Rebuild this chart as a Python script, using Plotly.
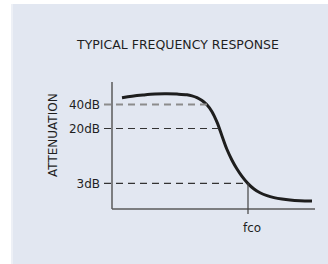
import plotly.graph_objects as go

# Schematic response curve (x: frequency position, y: attenuation level position)
curve_x = [10, 20, 31, 43, 55, 65, 75, 80, 85, 90, 94.7, 100, 105, 110, 115, 120, 125, 130, 136, 142, 148, 155, 162, 170, 178, 188, 200]
curve_y = [111.3, 112.8, 114, 115, 115.2, 114.9, 114.2, 113.15, 111.4, 108.5, 104.5, 97.3, 86.8, 73.05, 59.5, 48.8, 40, 32.6, 25.4, 20, 16.25, 13.35, 11.4, 9.9, 8.9, 8.2, 7.9]

# Reference levels and where they meet the curve
level_labels = ["40dB", "20dB", "3dB"]
level_values = [104.5, 80.5, 25.7]
level_ends = [98, 112, 136]

fco_value = 136
fco_label = "fco"

title_text = "TYPICAL FREQUENCY RESPONSE"
ylabel_text = "ATTENUATION"

W, H = 328, 264
L, R, T, B = 104, 12, 82, 49
pw, ph = W - L - R, H - T - B


def px(xp):
    return (xp - L) / pw


def py(yp):
    return (H - B - yp) / ph


FONT = "DejaVu Sans, Verdana, sans-serif"
TXT = "#1f1f1f"

fig = go.Figure()

fig.add_trace(go.Scatter(
    x=curve_x, y=curve_y, mode="lines",
    line=dict(color="#1e1e1e", width=3, shape="spline", smoothing=1.0),
    hoverinfo="skip", showlegend=False,
))

shapes = []
# background panel
shapes.append(dict(type="rect", xref="paper", yref="paper",
                   x0=px(11), x1=px(330), y0=py(266), y1=py(4),
                   fillcolor="#e2e7f1", line=dict(width=0), layer="below"))
shapes.append(dict(type="rect", xref="paper", yref="paper",
                   x0=px(11), x1=px(13), y0=py(266), y1=py(4),
                   fillcolor="#edf0f6", line=dict(width=0), layer="below"))
# axis lines
shapes.append(dict(type="line", xref="x", yref="y", x0=0, x1=0, y0=0, y1=127,
                   line=dict(color="#5a5a5a", width=1.5)))
shapes.append(dict(type="line", xref="x", yref="y", x0=0, x1=203, y0=0, y1=0,
                   line=dict(color="#5a5a5a", width=1.5)))
# dashed level lines
for i, (v, e) in enumerate(zip(level_values, level_ends)):
    if i == 0:
        ln = dict(color="#8c8c8c", width=2, dash="7px,5px")
    else:
        ln = dict(color="#333333", width=1.2, dash="7px,5px")
    shapes.append(dict(type="line", xref="x", yref="y", x0=-8, x1=e, y0=v, y1=v, line=ln))
# fco marker
shapes.append(dict(type="line", xref="x", yref="y", x0=fco_value, x1=fco_value,
                   y0=level_values[2], y1=-5, line=dict(color="#444444", width=1.2)))

fig.update_layout(
    template="none",
    width=W, height=H,
    margin=dict(l=L, r=R, t=T, b=B, pad=0),
    paper_bgcolor="white", plot_bgcolor="rgba(0,0,0,0)",
    shapes=shapes,
    showlegend=False,
    font=dict(family=FONT, color=TXT),
    xaxis=dict(range=[-8, 204], showgrid=False, zeroline=False, showline=False,
               automargin=False,
               tickvals=[fco_value], ticktext=[fco_label], ticks="",
               tickfont=dict(family=FONT, size=12, color=TXT), ticklabelshift=4,
               ticklabelstandoff=4, fixedrange=True),
    yaxis=dict(range=[-6, 127], showgrid=False, zeroline=False, showline=False,
               automargin=False,
               tickvals=level_values, ticktext=level_labels, ticks="",
               tickfont=dict(family=FONT, size=12, color=TXT), ticklabelstandoff=3,
               fixedrange=True),
    annotations=[
        dict(text=title_text, xref="paper", yref="paper", x=px(177.5), y=py(44.7),
             showarrow=False, xanchor="center", yanchor="middle",
             font=dict(family=FONT, size=12.5, color=TXT)),
        dict(text=ylabel_text, xref="paper", yref="paper", x=px(53), y=py(135),
             showarrow=False, xanchor="center", yanchor="middle", textangle=-90,
             font=dict(family=FONT, size=12, color=TXT)),
    ],
)

fig.write_html("out.html", config={"displayModeBar": False},
               post_script="document.body.style.margin='0';document.body.style.overflow='hidden';")
